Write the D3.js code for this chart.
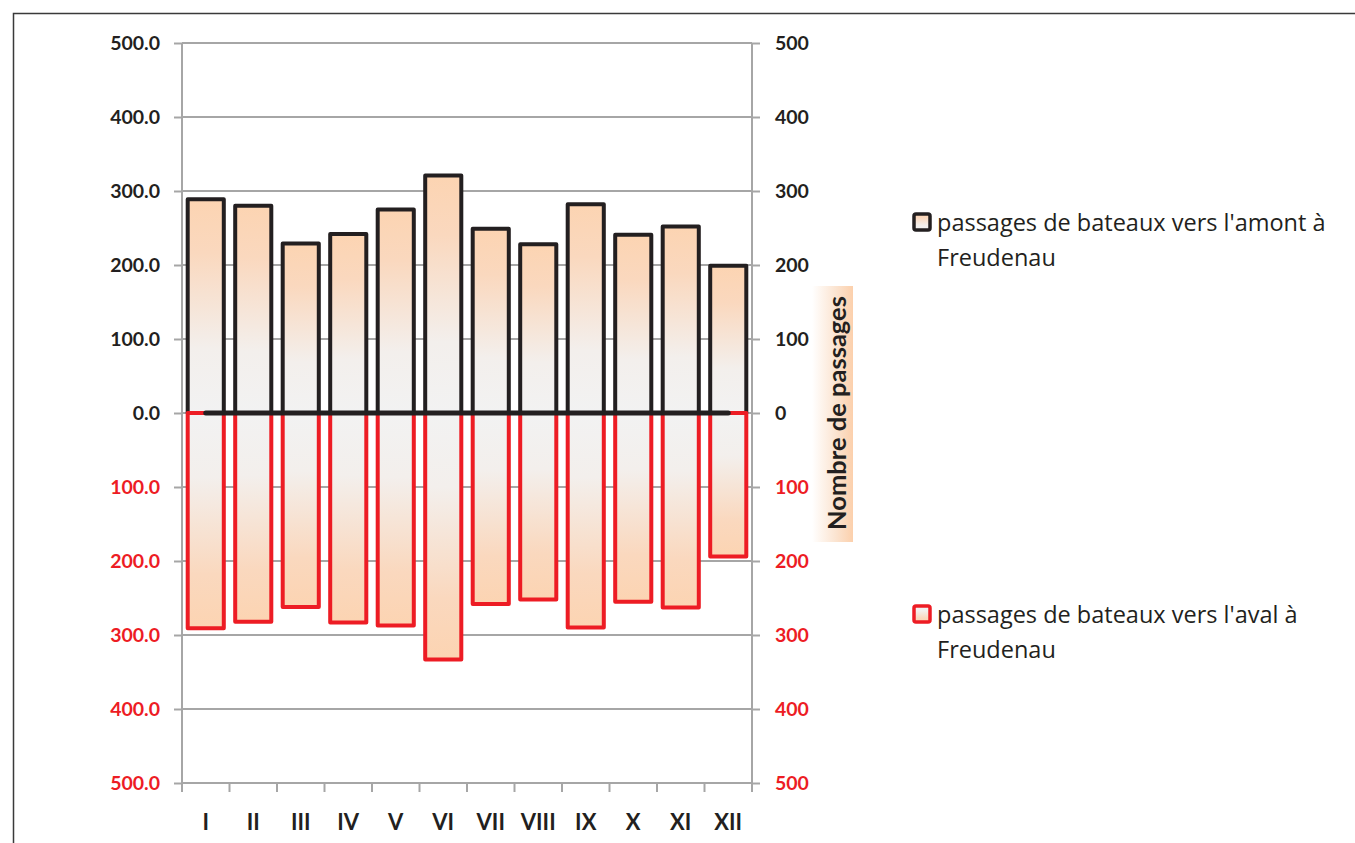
<!DOCTYPE html>
<html>
<head>
<meta charset="utf-8">
<script src="https://cdn.jsdelivr.net/npm/d3@7/dist/d3.min.js"></script>
<style>
  html, body { margin: 0; padding: 0; background: #fff; }
  svg { display: block; }
  text { font-family: Lato, "Open Sans", sans-serif; }
  text.legend { font-family: "Open Sans", Lato, sans-serif; }
</style>
</head>
<body>
<svg id="chart" width="1355" height="843"></svg>
<script>
// ---- data ----
const categories = ["I","II","III","IV","V","VI","VII","VIII","IX","X","XI","XII"];
const amont = [289, 280, 229, 242, 275, 321, 249, 228, 282, 241, 252, 199]; // vers l'amont (up)
const aval  = [291, 282, 262, 283, 287, 333, 258, 252, 290, 255, 263, 194]; // vers l'aval (down)
const zeroLine = [0,0,0,0,0,0,0,0,0,0,0,0];
const yTicks = [-500,-400,-300,-200,-100,0,100,200,300,400,500];
const legendLabels = [
  ["passages de bateaux vers l'amont à", "Freudenau"],
  ["passages de bateaux vers l'aval à", "Freudenau"]
];
const axisTitle = "Nombre de passages";

// ---- layout ----
const svg = d3.select("#chart");
const L = 182, R = 752, T = 43, B = 783;
const black = "#231f20", red = "#ed1c24", grid = "#a6a6a6";

const x = d3.scaleBand().domain(categories).range([L, R]).padding(0);
const y = d3.scaleLinear().domain([-500, 500]).range([B, T]);
const bw = x.bandwidth();
const barW = bw * 0.76, barOff = (bw - barW) / 2;

// outer border
svg.append("rect").attr("x", 13.5).attr("y", 13.5).attr("width", 1400).attr("height", 900)
  .attr("fill", "none").attr("stroke", "#3a3a3a").attr("stroke-width", 1.5);

// gradients
const defs = svg.append("defs");
const gUp = defs.append("linearGradient").attr("id", "gUp").attr("x1", 0).attr("y1", 0).attr("x2", 0).attr("y2", 1);
[[0, "#fcd4b2"], [0.25, "#fad8be"], [0.7, "#f3efec"], [1, "#f2f2f2"]].forEach(s =>
  gUp.append("stop").attr("offset", s[0]).attr("stop-color", s[1]));
const gDown = defs.append("linearGradient").attr("id", "gDown").attr("x1", 0).attr("y1", 1).attr("x2", 0).attr("y2", 0);
[[0, "#fcd4b2"], [0.25, "#fad8be"], [0.7, "#f3efec"], [1, "#f2f2f2"]].forEach(s =>
  gDown.append("stop").attr("offset", s[0]).attr("stop-color", s[1]));
const gTitle = defs.append("linearGradient").attr("id", "gTitle").attr("x1", 0).attr("y1", 0).attr("x2", 1).attr("y2", 0);
[[0, "#ffffff"], [0.6, "#fbe3cf"], [1, "#fcd0ac"]].forEach(s =>
  gTitle.append("stop").attr("offset", s[0]).attr("stop-color", s[1]));

// gridlines
svg.append("g").selectAll("line").data(yTicks).join("line")
  .attr("x1", L).attr("x2", R).attr("y1", d => y(d)).attr("y2", d => y(d))
  .attr("stroke", grid).attr("stroke-width", 2);

// left axis
const leftAxis = d3.axisLeft(y).tickValues(yTicks).tickSize(8).tickPadding(14)
  .tickFormat(d => d3.format(".1f")(Math.abs(d)));
const gl = svg.append("g").attr("transform", `translate(${L},0)`).call(leftAxis);
gl.select(".domain").remove();
gl.selectAll(".tick line").attr("stroke", grid).attr("stroke-width", 2);
gl.selectAll(".tick text").attr("font-size", 19.5).attr("font-weight", 700)
  .attr("fill", d => d < 0 ? red : black);
svg.append("line").attr("x1", L).attr("x2", L).attr("y1", T).attr("y2", B + 9)
  .attr("stroke", grid).attr("stroke-width", 2);

// right axis
const rightAxis = d3.axisRight(y).tickValues(yTicks).tickSize(8).tickPadding(15)
  .tickFormat(d => d3.format("d")(Math.abs(d)));
const gr = svg.append("g").attr("transform", `translate(${R},0)`).call(rightAxis);
gr.select(".domain").remove();
gr.selectAll(".tick line").attr("stroke", grid).attr("stroke-width", 2);
gr.selectAll(".tick text").attr("font-size", 19.5).attr("font-weight", 700)
  .attr("fill", d => d < 0 ? red : black);
svg.append("line").attr("x1", R).attr("x2", R).attr("y1", T).attr("y2", B + 9)
  .attr("stroke", grid).attr("stroke-width", 2);

// bottom axis (ticks at band boundaries)
const boundaries = categories.map(c => x(c)).concat([R]);
svg.append("g").selectAll("line").data(boundaries).join("line")
  .attr("x1", d => d).attr("x2", d => d).attr("y1", B).attr("y2", B + 9)
  .attr("stroke", grid).attr("stroke-width", 2);
svg.append("g").selectAll("text").data(categories).join("text")
  .attr("x", d => x(d) + bw / 2).attr("y", 830)
  .attr("text-anchor", "middle").attr("font-size", 22).attr("font-weight", 700)
  .attr("fill", black).text(d => d);

// bars: amont (positive, black outline)
svg.append("g").selectAll("rect").data(categories).join("rect")
  .attr("x", d => x(d) + barOff).attr("width", barW)
  .attr("y", (d, i) => y(amont[i])).attr("height", (d, i) => y(0) - y(amont[i]))
  .attr("fill", "url(#gUp)").attr("stroke", black).attr("stroke-width", 4)
  .attr("stroke-linejoin", "round");

// bars: aval (negative, red outline)
svg.append("g").selectAll("rect").data(categories).join("rect")
  .attr("x", d => x(d) + barOff).attr("width", barW)
  .attr("y", y(0)).attr("height", (d, i) => y(-aval[i]) - y(0))
  .attr("fill", "url(#gDown)").attr("stroke", red).attr("stroke-width", 4)
  .attr("stroke-linejoin", "round");

// zero line series
const line = d3.line().x((d, i) => x(categories[i]) + bw / 2).y(d => y(d));
svg.append("path").datum(zeroLine).attr("d", line)
  .attr("fill", "none").attr("stroke", black).attr("stroke-width", 5).attr("stroke-linecap", "round");

// axis title with gradient background
svg.append("rect").attr("x", 812).attr("y", 286).attr("width", 41).attr("height", 256)
  .attr("fill", "url(#gTitle)");
svg.append("text").attr("transform", `translate(846,413) rotate(-90)`)
  .attr("text-anchor", "middle").attr("font-size", 25.5).attr("font-weight", 700)
  .attr("fill", black).text(axisTitle);

// legend
const legendY = [223, 615];
const legendStroke = [black, red];
const legendFill = ["url(#gUp)", "url(#gDown)"];
legendLabels.forEach((lines, k) => {
  const g = svg.append("g");
  g.append("rect").attr("x", 914).attr("y", legendY[k] - 9).attr("width", 16).attr("height", 16)
    .attr("rx", 2).attr("fill", legendFill[k]).attr("stroke", legendStroke[k]).attr("stroke-width", 3.5);
  lines.forEach((t, j) => {
    g.append("text").attr("class", "legend").attr("x", 937).attr("y", legendY[k] + 8 + j * 35)
      .attr("font-size", 23.5).attr("fill", black).text(t);
  });
});
</script>
</body>
</html>
